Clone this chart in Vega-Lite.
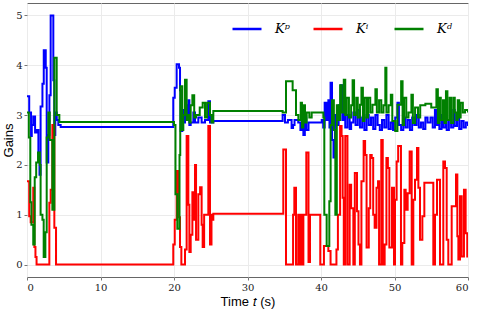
{
"$schema": "https://vega.github.io/schema/vega-lite/v6.json",
"width": 441, "height": 274,
"autosize": {"type": "none"},
"padding": {"left": 27, "top": 3, "right": 10, "bottom": 35},
"config": {"view": {"stroke": "#666", "strokeWidth": 1}},
"datasets": {
"kp": [[0,3.38],[0.3,3.05],[0.55,2.58],[0.65,2.8],[0.85,2.97],[1.1,2.65],[1.3,2.7],[1.55,2.25],[1.7,1.8],[1.85,3.17],[2.1,3.63],[2.28,4.3],[2.55,3.95],[2.68,2.05],[2.9,2.6],[3.05,3.4],[3.22,5.0],[3.58,3.7],[3.72,2.6],[3.85,3.05],[4.05,2.9],[4.26,2.8],[4.58,2.76],[19.9,3.35],[20.1,3.55],[20.36,4.02],[20.68,3.95],[20.82,3.5],[20.91,2.68],[21.13,3.1],[21.27,2.85],[21.5,3.2],[21.72,2.9],[21.95,3.3],[22.09,2.8],[22.27,2.85],[22.63,3.05],[22.86,2.85],[23.31,2.95],[23.76,2.85],[24.22,2.9],[24.67,3.28],[24.9,2.85],[25.35,2.88],[34.78,3.0],[35.1,2.85],[35.5,2.9],[36.0,2.74],[36.2,2.8],[36.4,2.9],[36.9,2.85],[37.2,2.7],[37.4,2.8],[37.6,2.6],[37.8,2.95],[38.0,2.7],[38.3,2.85],[40.1,2.9],[40.3,2.75],[40.5,3.25],[40.75,2.9],[41.0,3.3],[41.15,2.75],[41.3,3.65],[41.5,2.5],[41.7,2.15],[41.9,3.0],[42.1,2.8],[42.4,3.2],[42.7,3.6],[42.9,2.9],[43.1,3.1],[43.3,2.75],[43.6,3.0],[43.9,2.72],[44.1,2.85],[44.4,3.05],[44.7,2.8],[45.0,3.1],[45.3,2.75],[45.6,2.95],[45.9,2.7],[46.2,3.0],[46.5,2.8],[46.8,2.95],[47.1,2.72],[47.4,3.0],[47.7,2.8],[48.0,2.7],[48.3,2.9],[48.6,2.75],[48.9,3.0],[49.2,2.72],[49.5,2.85],[49.8,2.7],[50.1,2.95],[50.4,3.25],[50.6,2.8],[50.9,2.7],[51.2,2.95],[51.5,2.75],[51.8,2.9],[52.1,2.7],[52.4,2.95],[52.7,2.8],[53.0,3.0],[53.3,2.75],[53.6,2.85],[53.9,2.72],[54.2,2.95],[54.5,2.85],[54.9,2.95],[55.2,2.75],[55.5,3.1],[55.7,2.8],[55.9,3.05],[56.1,2.72],[56.4,3.0],[56.6,2.75],[56.9,2.95],[57.1,2.7],[57.4,2.9],[57.7,2.75],[58.0,3.1],[58.2,2.78],[58.5,2.95],[58.8,2.72],[59.1,2.88],[59.4,2.75],[59.7,2.85],[60,2.78]],
"ki": [[0,1.67],[0.3,0.97],[0.5,0.85],[0.85,1.54],[1.0,0.35],[1.15,0.15],[1.3,0.0],[3.04,1.24],[3.22,1.5],[3.45,2.8],[3.72,0.74],[3.95,0.0],[19.9,0.4],[20.1,0.9],[20.36,1.88],[20.6,0.95],[20.82,0.35],[21.0,0.0],[21.5,0.3],[21.72,2.58],[21.95,1.2],[22.09,0.25],[22.27,0.6],[22.5,1.45],[22.63,0.9],[22.86,2.0],[23.0,0.5],[23.31,1.41],[23.55,1.55],[23.76,0.8],[23.9,0.35],[24.1,1.0],[24.67,2.78],[24.9,0.4],[25.1,1.0],[25.2,0.9],[25.35,1.02],[34.87,2.31],[35.24,0.0],[36.2,1.0],[36.37,1.54],[36.6,0.0],[36.9,1.0],[37.1,0.0],[37.3,1.0],[37.5,0.0],[37.6,1.0],[38.0,2.25],[38.3,0.05],[38.5,1.0],[39.9,0.0],[40.4,0.37],[41.0,0.27],[41.3,0.0],[42.1,0.3],[42.3,1.0],[42.6,2.78],[42.8,2.58],[42.95,1.34],[43.1,0.0],[43.3,2.58],[43.6,0.0],[43.9,1.6],[44.1,1.13],[44.4,0.0],[44.6,1.84],[44.9,1.07],[45.1,0.4],[45.3,0.0],[45.5,1.67],[45.8,2.48],[46.0,2.2],[46.2,0.34],[46.5,1.13],[46.7,2.2],[46.9,2.14],[47.1,1.0],[47.3,0.74],[47.55,1.54],[47.76,1.67],[47.9,0.0],[48.2,2.5],[48.4,0.0],[48.66,0.4],[48.9,2.14],[49.1,1.94],[49.3,0.34],[49.66,1.54],[49.93,0.0],[50.07,1.3],[50.29,2.07],[50.5,2.38],[50.88,0.0],[51.06,0.43],[51.34,1.5],[51.52,1.1],[51.79,1.43],[52.06,2.27],[52.34,0.0],[52.56,1.3],[52.79,1.7],[53.06,2.34],[53.25,1.54],[53.47,0.5],[53.79,0.97],[54.06,1.64],[55.28,0.0],[55.51,1.0],[55.78,1.7],[56.19,0.0],[56.64,2.07],[56.87,1.94],[57.1,0.5],[57.32,0.0],[57.78,1.17],[58.37,1.81],[58.55,0.57],[58.69,0.1],[58.91,1.37],[59.14,0.16],[59.45,1.5],[59.68,0.63],[59.9,0.16],[60,0.16]],
"kd": [[0,3.05],[0.25,2.55],[0.45,1.25],[0.6,0.8],[0.85,0.4],[1.05,1.75],[1.25,2.05],[1.5,2.25],[1.75,2.0],[1.85,1.0],[2.1,0.9],[2.27,0.15],[2.5,0.65],[2.68,2.55],[2.9,3.05],[3.1,2.5],[3.45,1.1],[3.72,4.15],[4.04,3.0],[4.4,2.86],[20.0,2.8],[20.2,1.41],[20.45,0.72],[20.75,2.2],[20.85,3.58],[21.13,2.7],[21.27,3.0],[21.5,3.71],[21.72,2.9],[21.95,3.0],[22.09,2.85],[22.27,3.2],[22.5,3.4],[22.75,2.95],[23.0,3.0],[23.5,3.15],[23.9,3.25],[24.22,2.95],[24.5,3.25],[24.9,3.0],[25.1,2.85],[25.35,3.08],[34.78,3.05],[35.24,3.68],[36.14,3.5],[36.33,3.5],[36.6,3.0],[36.92,2.9],[37.24,3.25],[37.41,2.75],[37.6,3.2],[37.82,2.85],[38.05,3.05],[38.41,2.95],[38.73,3.05],[40.09,3.05],[40.32,2.95],[40.45,1.0],[40.77,0.37],[41.13,1.27],[41.31,2.8],[41.5,3.3],[41.75,2.7],[41.95,1.0],[42.15,3.2],[42.4,2.9],[42.6,3.6],[42.8,3.05],[43.1,3.71],[43.3,3.0],[43.5,3.35],[43.8,2.95],[44.1,3.2],[44.3,3.7],[44.5,3.0],[44.8,3.35],[45.0,2.95],[45.3,3.21],[45.5,3.55],[45.7,2.88],[45.9,3.35],[46.2,2.95],[46.4,3.35],[46.7,3.05],[47.0,3.21],[47.4,3.52],[47.6,3.05],[47.9,3.3],[48.2,3.05],[48.5,3.2],[48.75,3.95],[48.9,3.05],[49.2,3.2],[49.5,3.41],[49.7,2.88],[50.1,2.68],[50.4,3.21],[50.9,3.68],[51.1,2.8],[51.3,3.35],[51.6,2.95],[51.9,3.05],[52.3,3.41],[52.5,2.84],[52.8,3.15],[53.2,2.95],[53.5,3.2],[54.2,3.23],[55.0,3.15],[55.7,3.52],[55.9,2.84],[56.1,3.35],[56.3,2.9],[56.6,3.3],[56.8,2.84],[57.0,3.48],[57.2,2.9],[57.5,3.35],[57.7,2.84],[58.0,3.35],[58.2,3.05],[58.4,2.9],[58.6,3.3],[58.8,2.95],[59.0,3.25],[59.3,3.05],[59.6,3.1],[60,3.05]]
},
"layer": [
{"data": {"name": "kp"}, "transform": [{"calculate": "'Kᵖ'", "as": "s"}, {"calculate": "datum[0]", "as": "t"}, {"calculate": "datum[1]", "as": "v"}],
 "mark": {"type": "line", "interpolate": "step-after", "strokeWidth": 2, "clip": true},
 "encoding": {
  "x": {"field": "t", "type": "quantitative", "scale": {"domain": [0, 60], "nice": false},
        "axis": {"values": [0,10,20,30,40,50,60], "title": "Time 𝑡 (s)", "titleFont": "Liberation Sans", "titleFontSize": 13, "titleFontWeight": "normal", "titleColor": "#000", "titlePadding": 3,
                 "labelFont": "DejaVu Serif", "labelFontSize": 10, "labelColor": "#222", "labelPadding": 2, "tickSize": 3, "tickColor": "#777", "domain": false, "grid": true, "gridColor": "#ebebeb", "gridWidth": 1}},
  "y": {"field": "v", "type": "quantitative", "scale": {"domain": [-0.25, 5.25], "nice": false, "zero": false},
        "axis": {"values": [0,1,2,3,4,5], "title": "Gains", "titleFont": "Liberation Sans", "titleFontSize": 13, "titleFontWeight": "normal", "titleColor": "#000", "titlePadding": 0,
                 "labelFont": "DejaVu Serif", "labelFontSize": 10, "labelColor": "#222", "labelPadding": 2, "tickSize": 3, "tickColor": "#777", "domain": false, "grid": true, "gridColor": "#ebebeb", "gridWidth": 1}},
  "color": {"field": "s", "type": "nominal",
            "scale": {"domain": ["Kᵖ", "Kⁱ", "Kᵈ"], "range": ["#0000ff", "#ff0000", "#008000"]},
            "legend": {"title": null, "orient": "none", "legendX": 204, "legendY": 10, "direction": "horizontal", "columns": 3, "gridAlign": "all", "columnPadding": 18, "padding": 0,
                       "symbolType": "stroke", "symbolSize": 841, "symbolStrokeWidth": 2.5, "labelOffset": 12, "labelFont": "DejaVu Serif", "labelFontStyle": "italic", "labelFontSize": 13, "labelColor": "#000"}}
 }},
{"data": {"name": "ki"}, "transform": [{"calculate": "'Kⁱ'", "as": "s"}, {"calculate": "datum[0]", "as": "t"}, {"calculate": "datum[1]", "as": "v"}],
 "mark": {"type": "line", "interpolate": "step-after", "strokeWidth": 2, "clip": true},
 "encoding": {"x": {"field": "t", "type": "quantitative"}, "y": {"field": "v", "type": "quantitative"}, "color": {"field": "s", "type": "nominal"}}},
{"data": {"name": "kd"}, "transform": [{"calculate": "'Kᵈ'", "as": "s"}, {"calculate": "datum[0]", "as": "t"}, {"calculate": "datum[1]", "as": "v"}],
 "mark": {"type": "line", "interpolate": "step-after", "strokeWidth": 2, "clip": true},
 "encoding": {"x": {"field": "t", "type": "quantitative"}, "y": {"field": "v", "type": "quantitative"}, "color": {"field": "s", "type": "nominal"}}}
]
}
